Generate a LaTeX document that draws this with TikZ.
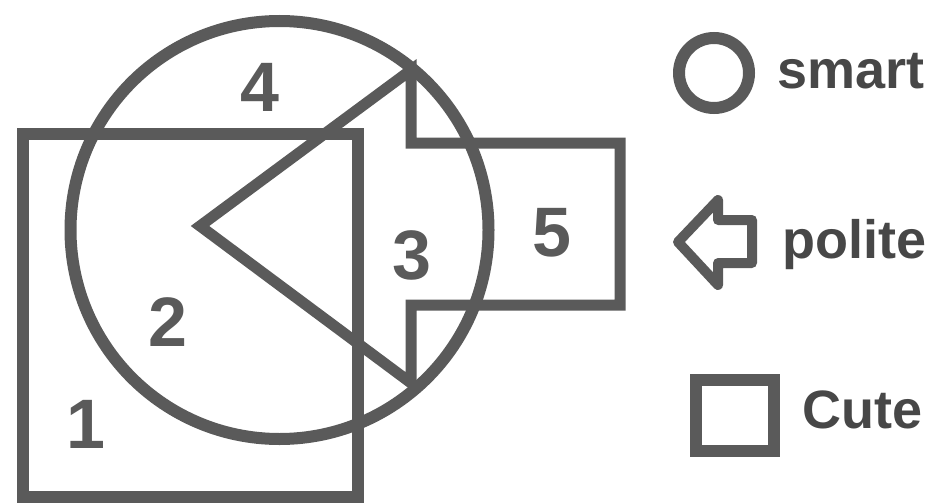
\documentclass[tikz,border=0pt]{standalone}
\usepackage{fontspec}
\setmainfont{Liberation Sans}
\definecolor{ink}{HTML}{5A5A5A}
\definecolor{txt}{HTML}{474747}
\begin{document}
\begin{tikzpicture}[x=1pt,y=-1pt,
  shape line/.style={draw=ink,line width=12pt,line join=miter},
  numlabel/.style={font=\fontsize{70}{70}\selectfont\bfseries,text=ink,inner sep=0pt},
  legendlabel/.style={font=\fontsize{54}{54}\selectfont\bfseries,text=txt,inner sep=0pt,anchor=base west}]
\useasboundingbox (0,0) rectangle (933,503);
% square (Cute)
\draw[shape line] (23,134) rectangle (358,497);
% circle (smart)
\draw[shape line] (279.5,230) circle (209);
% arrow (polite)
\draw[shape line,line width=11pt] (200,226) -- (411,70) -- (411,143) -- (620,143) -- (620,305) -- (411,305) -- (411,383) -- cycle;
% numbers
\node[numlabel] (n1) at (86,424) {1};
\node[numlabel] (n2) at (168,322) {2};
\node[numlabel] (n3) at (412,255) {3};
\node[numlabel] (n4) at (260,87) {4};
\node[numlabel] (n5) at (552,233) {5};
% legend
\draw[shape line] (714,73) circle (35);
\draw[shape line,line width=10pt,line join=round] (678,242) -- (718,200) -- (718,220) -- (752,220) -- (752,263) -- (718,263) -- (718,285) -- cycle;
\draw[shape line] (696,380) rectangle (774,451);
\node[legendlabel] (smart) at (777,88) {smart};
\node[legendlabel] (polite) at (782,258) {polite};
\node[legendlabel] (cute) at (802,428) {Cute};
\end{tikzpicture}
\end{document}
